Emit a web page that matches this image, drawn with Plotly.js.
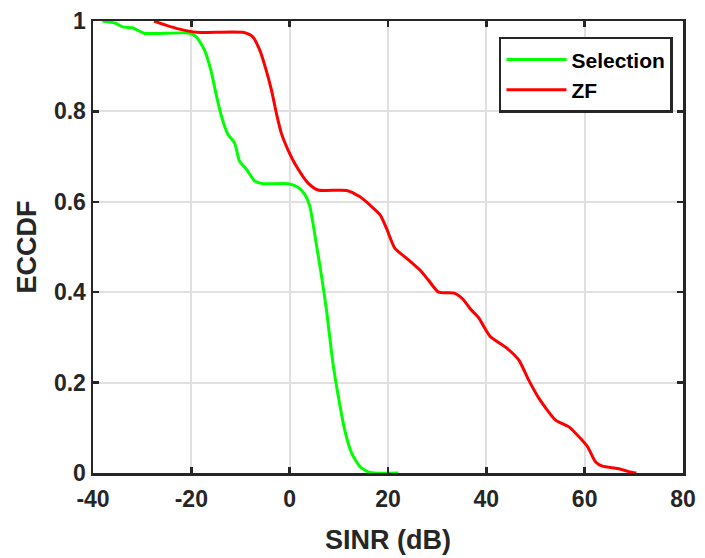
<!DOCTYPE html>
<html>
<head>
<meta charset="utf-8">
<script src="https://cdn.plot.ly/plotly-3.0.1.min.js"></script>
<style>html,body{margin:0;padding:0;background:#fff;}#chart{width:705px;height:558px;}</style>
</head>
<body>
<div id="chart"></div>
<script>
// Selection curve
var selX = [-38.1,-35.4,-34,-32,-31,-29.6,-20.4,-19,-17.3,-16,-15,-13.9,-12.6,-11.2,-10.2,-8.8,-7.1,-5.4,-0.3,1.7,3.1,4.1,5.4,6.5,7.5,8.8,9.9,11.2,12.6,14.3,16.3,22.1];
var selY = [1.0,0.995,0.987,0.985,0.98,0.973,0.973,0.965,0.935,0.89,0.84,0.79,0.75,0.73,0.69,0.672,0.646,0.64,0.64,0.632,0.616,0.59,0.508,0.434,0.36,0.243,0.169,0.095,0.044,0.014,0.001,0.0];
// ZF curve
var zfX = [-27.6,-25.2,-22.4,-19,-9.5,-7.5,-6.1,-4.8,-3.7,-2.7,-1.7,-0.3,1.4,3.7,5.8,11.6,14.3,16.3,18.4,19.7,21.4,23.8,26.5,28.2,30.3,33.5,35.2,36.9,38.4,40.8,44.2,46.6,48.6,50.7,54.1,56.8,58.5,60.6,62.2,63.6,66.7,69,70.5];
var zfY = [1.0,0.991,0.982,0.975,0.975,0.965,0.936,0.892,0.847,0.796,0.752,0.714,0.678,0.642,0.626,0.625,0.611,0.593,0.571,0.541,0.497,0.475,0.449,0.427,0.400,0.398,0.385,0.361,0.344,0.302,0.276,0.25,0.206,0.165,0.117,0.102,0.084,0.058,0.025,0.015,0.010,0.003,0.0];
var xTicks = [-40,-20,0,20,40,60,80];
var xTickText = ['-40','-20','0','20','40','60','80'];
var yTicks = [0,0.2,0.4,0.6,0.8,1];
var yTickText = ['0','0.2','0.4','0.6','0.8','1'];

var font = 'Liberation Sans, Arial, sans-serif';
var axisCommon = {
  showline: true, mirror: 'allticks', linecolor: '#262626', linewidth: 2.5,
  ticks: 'inside', ticklen: 6, tickwidth: 2.5, tickcolor: '#262626',
  showgrid: true, gridcolor: '#e0e0e0', gridwidth: 2, zeroline: false,
  automargin: false,
  tickfont: {family: font, size: 23, color: '#262626', weight: 'bold'}
};
var layout = {
  width: 705, height: 558,
  margin: {l: 93, r: 22, t: 21, b: 85},
  paper_bgcolor: '#ffffff', plot_bgcolor: '#ffffff',
  showlegend: true,
  legend: {
    x: 0.983, y: 0.965, xanchor: 'right', yanchor: 'top',
    bgcolor: '#ffffff', bordercolor: '#262626', borderwidth: 2.5,
    font: {family: font, size: 21, color: '#000', weight: 'bold'},
    tracegroupgap: 0, itemwidth: 60
  },
  xaxis: Object.assign({}, axisCommon, {
    range: [-40, 80], tickvals: xTicks, ticktext: xTickText, ticklabelstandoff: 4,
    title: {text: 'SINR (dB)', font: {family: font, size: 27, color: '#262626', weight: 'bold'}, standoff: 19}
  }),
  yaxis: Object.assign({}, axisCommon, {
    range: [0, 1], tickvals: yTicks, ticktext: yTickText,
    title: {text: 'ECCDF', font: {family: font, size: 27, color: '#262626', weight: 'bold'}, standoff: 10}
  })
};
var traces = [
  {x: selX, y: selY, mode: 'lines', name: 'Selection', line: {color: '#00ff00', width: 3, shape: 'spline', smoothing: 0.6}},
  {x: zfX, y: zfY, mode: 'lines', name: 'ZF', line: {color: '#ff0000', width: 3, shape: 'spline', smoothing: 0.6}}
];
Plotly.newPlot('chart', traces, layout, {displayModeBar: false, staticPlot: true});
</script>
</body>
</html>
